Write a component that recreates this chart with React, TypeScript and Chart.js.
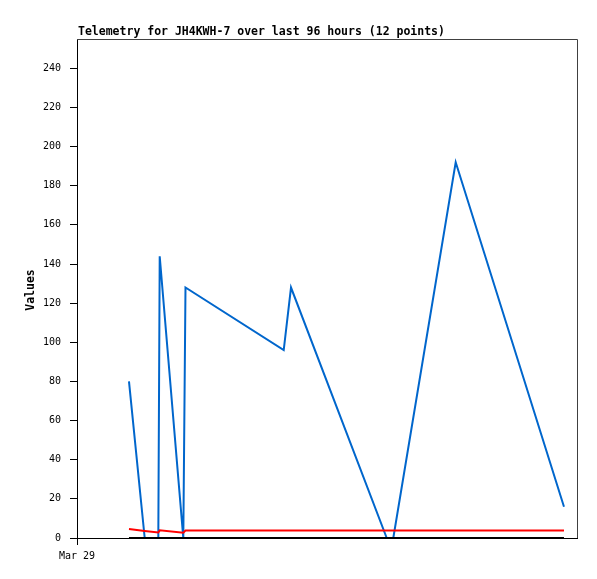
import React, { useEffect, useRef } from "react";
import { Chart, registerables } from "chart.js";

Chart.register(...registerables);

const TITLE = "Telemetry for JH4KWH-7 over last 96 hours (12 points)";
const Y_TITLE = "Values";
const X_TICK_LABEL = "Mar 29";
// hours since Mar 29 00:00
const hours = [9.98, 13.0, 15.61, 15.88, 20.41, 20.83, 39.69, 41.09, 59.47, 60.73, 72.71, 93.5];
const blueValues = [80, 0, 0, 144, 0, 128, 96, 128, 0, 0, 192, 16];
const redValues = [4.6, 3.6, 2.8, 3.9, 2.7, 3.8, 3.8, 3.8, 3.8, 3.8, 3.8, 3.8];
const blackValues = [0, 0, 0, 0, 0, 0, 0, 0, 0, 0, 0, 0];
const yTicks = [0, 20, 40, 60, 80, 100, 120, 140, 160, 180, 200, 220, 240];

const MONO = "'DejaVu Sans Mono', monospace";

export default function App() {
  const ref = useRef<HTMLCanvasElement>(null);
  useEffect(() => {
    document.body.style.margin = "0";
    const toPts = (vals: number[]) => hours.map((h, i) => ({ x: h, y: vals[i] }));
    const framePlugin = {
      id: "frame",
      afterDraw(chart: any) {
        const { ctx, chartArea } = chart;
        ctx.save();
        ctx.strokeStyle = "#404040";
        ctx.lineWidth = 1;
        ctx.beginPath();
        ctx.moveTo(chartArea.left, chartArea.top + 0.5);
        ctx.lineTo(chartArea.right + 0.5, chartArea.top + 0.5);
        ctx.lineTo(chartArea.right + 0.5, chartArea.bottom);
        ctx.stroke();
        ctx.fillStyle = "#000";
        ctx.font = `bold 11.5px ${MONO}`;
        ctx.textAlign = "left";
        ctx.textBaseline = "alphabetic";
        ctx.fillText(TITLE, 78, 34.5);
        ctx.translate(31, 290);
        ctx.rotate(-Math.PI / 2);
        ctx.textAlign = "center";
        ctx.textBaseline = "middle";
        ctx.fillText(Y_TITLE, 0, 0);
        ctx.restore();
      },
    };
    const chart = new Chart(ref.current!, {
      type: "line",
      data: {
        datasets: [
          { data: toPts(blackValues), borderColor: "#000000", borderWidth: 2, pointRadius: 0, tension: 0 },
          { data: toPts(redValues), borderColor: "#FF0000", borderWidth: 2, pointRadius: 0, tension: 0 },
          { data: toPts(blueValues), borderColor: "#0066CC", borderWidth: 2, pointRadius: 0, tension: 0 },
        ],
      },
      options: {
        animation: false,
        responsive: false,
        layout: { padding: { top: 39, right: 20, left: 0, bottom: 0 } },
        plugins: { legend: { display: false }, tooltip: { enabled: false }, title: { display: false } },
        scales: {
          x: {
            type: "linear",
            min: 0,
            max: 96,
            afterFit: (s: any) => { s.height = 41; },
            afterBuildTicks: (s: any) => { s.ticks = [{ value: 0 }]; },
            grid: { drawOnChartArea: false, drawTicks: true, tickLength: 7, color: "#000" },
            border: { display: true, color: "#000", width: 1 },
            ticks: {
              callback: () => X_TICK_LABEL,
              color: "#000",
              font: { family: MONO, size: 10 },
              padding: 5,
              maxRotation: 0,
              autoSkip: false,
            },
          },
          y: {
            type: "linear",
            min: 0,
            max: 255,
            afterFit: (s: any) => { s.width = 77; },
            afterBuildTicks: (s: any) => { s.ticks = yTicks.map((v) => ({ value: v })); },
            grid: { drawOnChartArea: false, drawTicks: true, tickLength: 7, color: "#000" },
            border: { display: true, color: "#000", width: 1 },
            ticks: {
              color: "#000",
              font: { family: MONO, size: 10 },
              padding: 9,
              autoSkip: false,
            },
          },
        },
      },
      plugins: [framePlugin],
    });
    return () => chart.destroy();
  }, []);
  return (
    <div style={{ position: "absolute", left: 0, top: 0, width: 597, height: 579, background: "#fff" }}>
      <canvas ref={ref} width={597} height={579} style={{ width: 597, height: 579 }} />
    </div>
  );
}
